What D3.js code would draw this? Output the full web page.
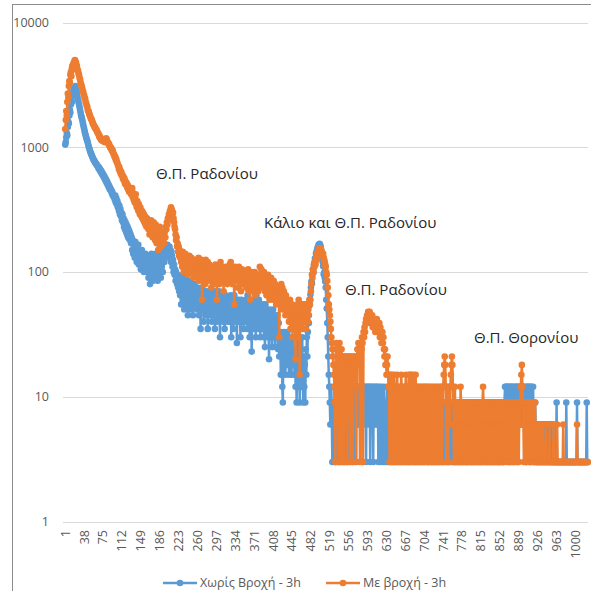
<!DOCTYPE html>
<meta charset="utf-8">
<style>
  body { margin: 0; background: #fff; }
  svg { font-family: "Open Sans", "Noto Sans", sans-serif; }
  .grid line { stroke: #d9d9d9; stroke-width: 1; shape-rendering: crispEdges; }
  .ylab, .xlab { fill: #595959; font-size: 12.5px; }
  .note { fill: #262626; font-size: 15px; }
  .legend text { fill: #595959; font-size: 12.5px; }
</style>
<body>
<script src="https://cdnjs.cloudflare.com/ajax/libs/d3/7.8.5/d3.min.js"></script>
<script>
// counts per channel, 32 channels per row
var dryCounts = [
  1050,1100,1200,1300,1250,1450,1600,1550,1800,2000,1900,2200,2400,2300,2600,2800,2700,2900,3000,2950,3100,2900,2800,2700,2500,2400,2300,2200,2100,2000,1900,1800,
  1750,1680,1600,1530,1460,1400,1340,1290,1240,1200,1160,1130,1090,1050,1010,980,950,920,900,880,860,840,820,800,790,780,760,750,740,730,720,710,
  700,680,690,660,670,640,650,620,630,600,610,580,590,560,570,540,550,520,530,500,510,480,490,460,470,450,455,430,440,410,420,400,
  400,380,410,360,390,350,370,330,350,310,340,290,320,280,300,260,290,250,270,230,260,220,250,210,240,200,230,190,220,185,210,180,
  200,170,190,150,180,140,170,160,130,175,145,155,120,150,135,165,115,145,125,140,105,130,150,110,135,120,100,130,115,140,105,125,
  130,100,120,90,135,110,80,125,100,140,95,115,85,130,105,120,90,140,110,95,125,85,115,100,135,105,120,90,130,110,145,100,
  130,145,120,155,140,160,135,150,165,145,155,130,160,140,150,120,145,135,110,125,100,115,95,105,85,100,90,80,95,75,85,70,
  80,65,90,55,75,85,60,95,70,50,80,65,90,55,70,85,45,75,60,80,50,70,85,55,65,75,45,70,60,80,55,65,
  60,70,50,75,55,65,45,70,60,35,65,55,75,50,60,40,70,55,65,45,60,70,50,35,65,55,45,60,70,50,55,40,
  55,65,45,60,70,35,55,50,65,40,60,55,45,70,50,30,60,55,45,65,50,40,55,60,35,50,65,45,55,40,60,50,
  50,60,40,55,65,30,50,45,60,35,55,65,40,50,45,60,27,55,50,40,60,45,55,30,50,60,40,45,55,35,50,45,
  55,40,60,45,35,65,50,40,55,30,60,45,50,23,55,40,60,35,50,45,55,30,65,40,50,45,35,60,40,55,30,50,
  45,35,55,40,50,30,45,25,55,35,40,50,30,45,35,20,50,40,30,45,35,25,40,50,30,35,45,25,40,30,35,45,
  33,24,39,21,30,33,15,30,24,12,9,24,33,21,30,15,24,30,18,33,21,24,15,30,21,18,27,15,24,21,30,18,
  21,15,24,12,18,9,21,15,27,12,21,9,15,24,12,18,30,15,9,21,12,18,9,24,15,30,21,33,45,39,54,60,
  66,75,84,81,96,105,99,114,120,129,126,141,144,150,156,159,165,159,168,165,159,150,141,129,120,111,96,99,90,84,75,60,
  51,39,30,21,15,12,9,6,9,12,6,3,9,6,3,12,9,3,6,15,9,3,12,6,3,9,12,15,3,6,9,12,
  9,3,6,12,3,9,6,3,12,9,3,6,12,9,3,12,6,9,12,3,9,12,6,9,3,12,9,6,12,9,12,6,
  12,9,12,6,9,12,3,12,9,12,6,12,9,3,12,9,12,6,12,9,12,3,9,12,6,12,9,3,12,9,6,12,
  9,12,6,9,12,3,9,12,6,9,3,12,9,6,9,3,12,6,9,3,9,6,12,3,9,6,3,9,6,12,3,9,
  6,9,3,6,9,3,9,6,3,9,6,3,9,3,6,9,3,6,9,3,9,6,3,9,6,3,6,9,3,9,6,3,
  9,3,6,9,3,9,6,3,9,6,3,9,3,6,9,3,9,6,3,6,9,3,9,6,3,9,6,3,9,3,6,9,
  3,9,6,3,9,6,3,9,3,6,9,3,9,6,3,9,3,6,9,3,6,9,3,9,6,3,9,6,3,9,6,3,
  9,6,3,9,3,6,9,3,9,6,3,9,6,3,9,3,6,9,3,9,6,3,9,6,3,9,3,6,9,3,9,6,
  3,9,6,3,9,3,6,9,3,9,6,3,9,6,3,9,6,3,9,3,6,9,3,6,9,3,9,6,3,9,3,6,
  9,3,6,9,3,9,6,3,9,3,6,9,3,9,6,3,9,3,6,9,3,9,6,3,9,6,3,9,3,6,9,3,
  6,9,3,9,6,3,9,3,6,9,3,9,6,3,9,6,3,9,3,6,9,3,9,6,3,9,3,6,9,12,9,12,
  12,9,12,6,12,9,12,3,12,9,12,6,12,9,3,12,9,12,6,12,9,12,3,12,9,12,6,12,9,12,6,12,
  12,9,12,6,12,9,3,12,9,12,6,12,9,12,3,12,9,12,6,9,12,6,3,6,9,6,3,6,3,6,3,6,
  6,3,6,6,3,6,3,6,6,3,6,3,6,6,3,6,3,6,6,3,6,3,6,3,6,3,6,3,3,6,3,3,
  3,3,9,3,3,3,3,3,3,3,3,3,3,3,3,3,3,3,3,3,3,9,3,3,3,3,3,3,3,3,3,3,
  3,3,3,3,3,3,3,3,3,3,9,3,3,3,3,3,3,3,3,3,3,3,3,3,3,3,3,3,3,9,3,3
];

var rainCounts = [
  1400,1650,1950,1800,2300,2700,2500,3100,3400,3300,3800,4000,3700,4300,4500,4200,4700,4600,4900,5000,4700,4800,4400,4500,4200,4100,3900,3800,3600,3500,3300,3200,
  3100,3000,2850,2800,2650,2600,2480,2450,2300,2250,2150,2120,2000,1950,1920,1850,1800,1760,1700,1680,1650,1600,1560,1520,1500,1460,1450,1420,1400,1380,1350,1320,
  1300,1280,1250,1200,1220,1180,1150,1170,1140,1120,1150,1160,1130,1100,1120,1150,1180,1160,1120,1100,1080,1050,1060,1020,1000,980,990,950,930,940,900,880,
  860,830,840,790,800,760,750,720,710,670,690,640,650,610,630,590,600,560,580,540,560,510,530,500,520,480,500,460,480,440,470,450,
  460,420,440,470,400,430,380,410,360,390,420,350,330,370,340,310,350,320,290,330,300,280,310,270,300,260,290,250,280,240,270,230,
  270,240,260,220,250,200,240,230,260,210,240,190,230,250,200,220,180,240,210,170,220,195,150,210,185,230,170,200,160,190,175,210,
  180,200,170,210,190,230,220,250,240,270,260,290,280,310,300,330,320,310,290,300,270,250,230,220,200,180,190,160,170,145,160,135,
  150,130,140,120,135,110,145,125,100,130,120,140,115,105,130,120,95,125,110,135,120,100,115,130,105,120,110,90,125,115,100,120,
  115,100,125,90,110,130,85,120,105,95,125,110,60,100,120,90,115,105,80,125,100,110,95,120,85,105,115,90,110,100,75,105,
  100,90,110,80,105,95,115,85,100,60,95,110,90,105,80,100,120,95,85,110,90,100,70,105,95,85,110,90,100,80,95,105,
  90,100,115,85,120,95,105,80,110,90,100,55,95,110,85,100,90,105,75,95,110,85,100,90,70,95,105,80,100,85,95,90,
  85,95,75,100,90,80,105,70,95,85,60,90,100,75,85,95,70,90,80,100,65,85,95,75,90,80,70,95,85,110,75,90,
  105,95,80,90,75,100,85,70,90,80,65,85,75,95,70,80,60,85,75,90,65,80,70,60,85,75,65,80,70,55,75,65,
  70,60,75,30,65,55,70,80,60,75,50,65,70,55,60,45,65,55,50,60,45,55,40,50,60,35,50,45,55,30,45,50,
  40,35,45,20,50,40,30,55,45,60,50,15,55,45,50,40,55,35,45,50,40,55,45,35,50,45,55,40,50,45,60,55,
  60,70,80,95,90,105,100,115,110,120,115,130,125,140,135,145,150,155,145,150,155,150,145,140,135,140,130,125,120,115,110,100,
  95,85,75,65,55,50,45,40,35,30,27,24,21,18,15,12,9,3,24,27,6,21,18,3,24,27,21,3,18,24,3,21,
  18,21,3,15,21,18,12,21,3,18,21,15,21,18,3,21,12,18,21,3,18,15,21,18,21,12,3,18,24,21,27,24,
  21,3,24,27,24,30,27,3,33,30,36,33,39,42,39,45,42,48,45,39,48,42,45,42,39,45,36,42,39,36,39,33,
  39,36,42,33,39,36,33,39,30,36,33,27,30,33,27,30,24,21,24,18,21,15,18,21,15,12,15,3,12,15,3,12,
  15,12,3,12,15,6,12,3,9,12,15,3,12,9,6,12,3,12,15,9,3,12,6,12,9,3,12,15,6,12,3,9,
  12,15,3,15,12,6,15,3,12,9,15,6,3,12,15,9,3,12,6,12,3,9,12,6,3,12,9,3,12,6,9,12,
  3,12,9,6,12,3,9,12,3,6,12,9,3,12,6,3,9,12,6,3,12,9,3,6,12,3,9,12,6,3,9,12,
  6,12,3,9,12,15,18,21,18,12,3,9,12,6,3,12,9,6,12,15,18,21,18,12,9,3,6,12,3,9,6,3,
  9,6,3,9,6,3,12,9,3,6,9,3,6,9,3,9,6,3,9,3,6,9,3,6,9,3,9,6,3,9,6,3,
  6,9,3,6,9,3,9,6,3,9,6,3,9,3,6,9,3,9,12,9,3,6,9,3,6,9,3,9,6,3,9,6,
  3,9,6,3,9,3,6,9,3,9,6,3,9,6,3,9,3,6,9,3,9,6,3,6,9,3,9,3,6,9,6,3,
  9,6,3,9,3,6,9,3,9,6,3,9,6,3,9,3,6,9,3,9,6,3,9,6,3,9,6,9,12,15,18,12,
  9,6,3,9,6,3,9,3,6,9,3,9,6,3,9,3,6,9,3,6,9,3,6,3,9,3,6,3,3,6,3,3,
  3,3,6,3,3,3,3,6,3,3,3,3,3,6,3,3,3,3,3,3,6,3,3,3,3,3,3,3,6,3,3,3,
  3,3,3,6,3,3,3,3,3,3,3,3,3,3,3,6,3,3,3,3,3,3,3,3,3,3,3,3,3,3,3,3,
  3,3,3,3,3,3,3,3,3,3,6,3,3,3,3,3,3,3,3,3,3,3,3,3,3,3,3,3,3,3,3,3
];

var channels = dryCounts.map(function(d, i) { return i + 1; });
var tickLabels = [1,38,75,112,149,186,223,260,297,334,371,408,445,482,519,556,593,630,667,704,741,778,815,852,889,926,963,1000];
var yTicks = [1, 10, 100, 1000, 10000];
var seriesNames = ["Χωρίς Βροχή - 3h", "Με βροχή - 3h"];
var seriesColors = ["#5b9bd5", "#ed7d31"];
var notes = ["Θ.Π. Ραδονίου", "Κάλιο και Θ.Π. Ραδονίου", "Θ.Π. Ραδονίου", "Θ.Π. Θορονίου"];

var width = 591, height = 591;

var svg = d3.select("body").append("svg")
    .attr("width", width)
    .attr("height", height);

// chart area border
svg.append("rect")
    .attr("x", 12.5).attr("y", 4.5)
    .attr("width", 700).attr("height", 700)
    .attr("fill", "none")
    .attr("stroke", "#8c8c8c");

var x = d3.scaleBand()
    .domain(channels)
    .range([65, 588]);

var y = d3.scaleLog()
    .domain([1, 10000])
    .range([521.5, 22.5]);

var cx = function(c) { return x(c) + x.bandwidth() / 2; };

// gridlines
svg.append("g").attr("class", "grid")
  .selectAll("line")
  .data(yTicks)
  .enter().append("line")
    .attr("x1", 63).attr("x2", 588)
    .attr("y1", function(d) { return Math.round(y(d)) + 0.5; })
    .attr("y2", function(d) { return Math.round(y(d)) + 0.5; });

svg.append("g")
  .selectAll("text")
  .data(yTicks)
  .enter().append("text")
    .attr("class", "ylab")
    .attr("x", 49)
    .attr("y", function(d) { return y(d); })
    .attr("dy", "0.35em")
    .attr("text-anchor", "end")
    .text(function(d) { return d; });

svg.append("g")
  .selectAll("text")
  .data(tickLabels)
  .enter().append("text")
    .attr("class", "xlab")
    .attr("text-anchor", "end")
    .attr("dy", "0.35em")
    .attr("transform", function(d) { return "translate(" + cx(d) + ",530) rotate(-90)"; })
    .text(function(d) { return d; });

// series
var series = [dryCounts, rainCounts];
var line = d3.line()
    .x(function(d, i) { return cx(channels[i]); })
    .y(function(d) { return y(d); });

series.forEach(function(vals, s) {
  var g = svg.append("g");
  g.append("path")
      .datum(vals)
      .attr("d", line)
      .attr("fill", "none")
      .attr("stroke", seriesColors[s])
      .attr("stroke-width", 2.5)
      .attr("stroke-linejoin", "round");
  g.selectAll("circle")
      .data(vals)
      .enter().append("circle")
      .attr("cx", function(d, i) { return cx(channels[i]); })
      .attr("cy", function(d) { return y(d); })
      .attr("r", 3.3)
      .attr("fill", seriesColors[s]);
});

// annotations
var notePos = [[156, 179], [264, 228], [345, 295], [474, 343]];
svg.append("g")
  .selectAll("text")
  .data(notes)
  .enter().append("text")
    .attr("class", "note")
    .attr("x", function(d, i) { return notePos[i][0]; })
    .attr("y", function(d, i) { return notePos[i][1]; })
    .text(function(d) { return d; });

// legend
var legendX = [163, 326];
var legend = svg.append("g").attr("class", "legend")
  .selectAll("g")
  .data(seriesNames)
  .enter().append("g")
    .attr("transform", function(d, i) { return "translate(" + legendX[i] + ",583)"; });

legend.append("line")
    .attr("x1", 0).attr("x2", 34)
    .attr("stroke", function(d, i) { return seriesColors[i]; })
    .attr("stroke-width", 2.5);
legend.append("circle")
    .attr("cx", 17).attr("r", 3.3)
    .attr("fill", function(d, i) { return seriesColors[i]; });
legend.append("text")
    .attr("x", 37)
    .attr("dy", "0.35em")
    .text(function(d) { return d; });
</script>
</body>
